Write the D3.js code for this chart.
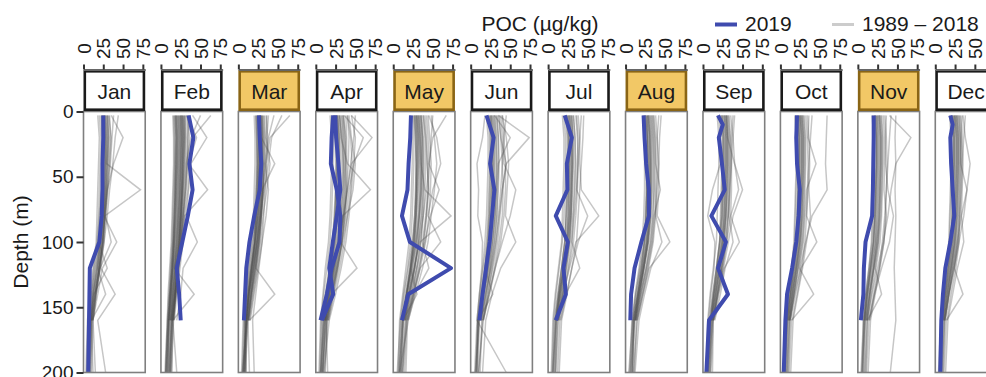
<!DOCTYPE html>
<html>
<head>
<meta charset="utf-8">
<script src="https://cdn.jsdelivr.net/npm/d3@7"></script>
<style>
  body { margin: 0; background: #fff; }
  svg { font-family: "Liberation Sans", Arial, sans-serif; }
</style>
</head>
<body>
<div id="chart"></div>
<script>
// months and the ones with a highlighted strip
const months = ["Jan", "Feb", "Mar", "Apr", "May", "Jun", "Jul", "Aug", "Sep", "Oct", "Nov", "Dec"];
const highlighted = ["Mar", "May", "Aug", "Nov"];
const pocTicks = [0, 25, 50, 75];
const depthTicks = [0, 50, 100, 150, 200];

// sampling depths (m)
const depthsHist = [3, 20, 40, 60, 80, 100, 120, 140, 160, 200];
const depths2019 = [3, 10, 20, 40, 60, 80, 100, 120, 140, 160, 200];

// 2019 profiles, POC (ug/kg) at depths2019, null = not sampled
const profiles2019 = [
  { month: "Jan", poc: [25, null, 25, 24, 24, 23, 20, 8, 7.5, 7, 6] },
  { month: "Feb", poc: [35, null, 41, 36, 40, 34, 27, 20, 23, 25, null] },
  { month: "Mar", poc: [26, null, 27, 29, 27, 20, 14, 10, 8.5, 7, null] },
  { month: "Apr", poc: [22, null, 20, 19, 26.5, 31, 30, 20, 14, 6, null] },
  { month: "Apr", poc: [24.5, null, 25.7, 28.6, 31, 26.5, 21.5, 17, 22, 7.6, null] },
  { month: "May", poc: [22.4, null, 21.5, 19.4, 18, 11, 21, 73, 19, 11, null] },
  { month: "Jun", poc: [20, null, 29, 24.5, 30, 27, 24, 19.5, 15, 11, null] },
  { month: "Jul", poc: [21, null, 30, 23.7, 24.4, 9.7, 25, 19.4, 22.4, 9.7, null] },
  { month: "Aug", poc: [22.8, null, 24, 26, 29.5, 29.5, 20, 11.4, 7, 6, null] },
  { month: "Sep", poc: [19, 25, 20, 24, 27.5, 10.6, 29, 19, 31.6, 7.6, 4.3] },
  { month: "Oct", poc: [21, null, 20, 21, 24.5, 23, 20, 14.8, 8.4, 6.3, 4.2] },
  { month: "Nov", poc: [20, null, 20, 19.5, 19, 18, 9.7, 7.6, 7, 3.8, null] },
  { month: "Dec", poc: [19, 22, 19, 20, 22, 24, 19, 12.7, 9.7, 7.6, 6.3] }
];

// 1989-2018 profiles per month, POC at depthsHist (shorter rows stop at 160 m)
const histJan = [
  [25,27,26,24,22,20,15,10,8,6], [30,32,30,28,25,22,18,12,9], [22,24,23,22,20,18,14,10,7,5],
  [35,50,38,30,27,24,20,14,10], [28,30,29,72,27,25,20,15,11,9], [38,36,34,31,28,26,22,40,18,28],
  [20,22,21,20,19,17,13,9,6,4], [32,35,33,30,26,42,24,18,12], [26,28,27,26,24,21,17,12,9,7],
  [44,40,37,33,30,26,20,15,10,8], [24,25,24,23,21,19,30,13,9], [30,31,30,29,27,24,19,14,10,12],
  [18,20,19,18,17,16,12,8,5,3], [27,29,28,27,25,22,18,28,10], [33,34,32,30,28,35,21,16,12,15],
  [26,27,27,26,25,23,19,13,10,8], [29,30,29,28,26,24,20,15,11], [23,24,24,23,22,20,16,11,8,6],
  [27,28,28,27,26,24,21,16,12,10], [31,32,31,29,27,25,21,16,12], [24,26,25,24,23,21,17,12,9,7]
];
const histFeb = [
  [20,21,20,19,18,16,14,11,9,6], [25,26,25,24,22,20,17,14,12], [30,30,29,28,26,24,20,17,14,10],
  [15,16,16,15,14,13,11,9,8,5], [35,34,33,31,28,26,22,18,15], [18,19,18,18,17,15,13,11,9,7],
  [28,29,28,27,25,23,19,16,13,11], [63,40,36,34,30,27,22,19,16], [22,23,22,21,20,18,15,13,10,8],
  [32,45,35,59,30,28,24,20,17], [26,27,26,25,24,22,19,16,14,12], [40,58,38,35,32,46,28,25,20],
  [17,18,18,17,16,15,13,11,9,6], [24,25,24,23,22,20,17,42,15,20], [29,30,29,27,25,23,20,17,13],
  [21,22,21,20,19,17,15,12,10,9], [34,36,34,32,29,26,23,19,15,14], [19,20,19,18,17,16,14,12,10],
  [27,28,27,26,25,23,21,18,16,13], [50,38,32,30,28,25,21,18,14],
  [23,24,23,22,21,19,16,13,11,9], [27,28,27,26,24,22,18,15,12], [20,21,21,20,19,17,15,12,10,7],
  [31,32,31,29,27,25,21,18,15,12], [25,26,25,24,23,21,18,15,13], [22,23,23,22,21,19,17,14,12,10],
  [28,29,28,27,26,24,21,18,15], [18,19,19,18,17,16,14,12,10,8],
  [16,17,17,16,15,14,12,10,8,6], [33,34,33,31,28,25,22,19,16], [24,25,25,24,23,21,18,15,13,11],
  [19,20,20,19,18,17,15,13,11], [26,27,27,26,25,23,20,17,14,12], [30,31,30,28,26,24,21,18,15]
];
const histMar = [
  [25,26,26,25,22,18,14,10,8,6], [30,31,30,28,25,21,16,12,9], [22,23,23,22,20,17,13,10,7,5],
  [65,40,35,32,28,24,19,14,10], [28,29,46,30,27,23,18,13,10,8], [33,34,33,31,29,26,22,46,14],
  [20,21,21,20,19,16,12,9,6,4], [35,37,36,34,32,30,26,22,18,20], [26,27,27,26,24,21,17,13,10,7],
  [45,38,34,31,28,25,21,16,12], [24,25,25,24,22,19,15,11,8,10], [29,30,30,29,27,24,20,16,12,14],
  [38,36,34,38,35,30,25,20,15], [27,28,28,27,25,23,19,14,11,5], [55,42,38,33,29,26,22,17,13],
  [26,27,27,26,24,21,17,13,10,8], [30,31,31,30,28,25,21,16,12], [23,24,24,23,22,20,16,12,9,7],
  [28,29,29,28,26,23,19,15,11,9], [32,33,32,31,29,27,23,18,13], [25,26,26,25,23,21,17,13,10,6],
  [27,28,28,27,25,22,18,14,11,8], [31,32,32,31,29,26,22,17,13], [24,25,25,24,23,21,17,13,10,7],
  [29,30,30,29,27,24,20,16,12,9], [36,35,40,36,31,28,24,19,14], [22,23,24,23,22,20,16,12,9,6]
];
const histApr = [
  [25,27,27,26,24,21,17,12,8,6], [35,38,37,35,32,28,22,16,11], [20,22,22,21,20,18,14,10,7,5],
  [45,71,45,40,35,30,24,18,12], [30,32,40,69,34,29,23,17,12,9], [40,42,41,39,35,31,52,20,14],
  [18,20,20,19,18,16,12,9,6,4], [38,39,39,39,37,33,27,20,14,12], [28,30,30,29,27,24,19,14,10],
  [50,48,44,40,36,32,26,19,13,8], [24,26,26,25,23,21,17,13,9], [33,35,35,34,32,29,24,18,13,15],
  [42,45,50,47,40,34,28,22,16], [27,29,29,28,26,23,19,15,11,7], [36,60,48,42,38,33,27,21,15],
  [28,30,30,29,27,25,20,15,11,8], [32,34,34,33,31,28,23,17,12], [25,27,27,26,25,22,18,13,9,7],
  [30,32,32,31,30,27,22,16,12,9], [35,37,38,37,34,30,25,19,13], [27,28,28,28,26,24,20,15,10,6],
  [40,44,46,44,40,36,30,23,16], [45,50,48,45,42,38,32,25,17,10], [30,33,35,36,34,31,26,20,14,9],
  [26,28,29,29,28,26,22,17,12], [34,36,37,38,36,33,28,21,15,11], [22,24,25,25,24,22,18,14,10,6]
];
const histMay = [
  [28,30,30,29,27,24,19,14,10,7], [35,37,37,36,33,29,23,17,12], [22,24,24,23,22,20,16,12,8,6],
  [67,50,45,42,38,33,27,20,14], [32,34,35,40,73,34,26,19,13,10], [40,42,43,45,42,38,30,24,16],
  [25,26,26,25,24,22,18,13,9,5], [45,55,60,50,44,60,34,26,18,16], [30,32,32,31,29,27,22,17,12],
  [38,40,41,40,38,35,29,22,15,12], [27,28,29,28,27,25,21,16,11], [50,48,46,44,41,37,45,27,19,8],
  [33,35,36,36,35,32,27,21,15], [42,44,45,58,47,40,32,25,17,14], [29,31,31,30,29,26,22,30,12],
  [30,32,33,32,31,28,23,17,12,9], [34,36,36,35,33,30,25,19,13], [27,29,29,29,28,25,21,16,11,7],
  [32,34,35,34,32,29,24,18,13,10], [36,38,39,38,36,32,27,20,14], [29,30,31,30,29,27,22,17,12,8],
  [44,46,48,47,45,41,34,26,18], [38,41,43,44,42,39,33,25,17,12], [48,52,55,52,48,44,37,28,19],
  [26,28,29,29,28,26,22,17,12,8], [35,37,38,38,37,35,30,23,16,11], [31,33,34,34,33,31,27,21,15]
];
const histJun = [
  [25,27,27,26,24,22,18,13,9,6], [30,32,33,32,30,27,22,16,11], [20,22,22,21,20,18,15,11,8,5],
  [35,74,45,40,36,32,26,19,13], [18,15,8,10,9,15,14,11,8,45], [38,40,42,57,50,40,31,23,16],
  [22,24,24,23,22,20,16,12,9,7], [40,45,48,46,44,57,38,27,19,15], [28,30,30,29,28,25,21,16,11],
  [33,35,36,35,33,30,25,20,14,12], [26,28,28,27,26,24,20,15,10], [45,42,40,38,35,32,27,22,16,10],
  [30,50,35,33,31,28,24,18,13], [24,25,25,24,23,21,18,28,9,8], [36,38,45,40,37,34,28,21,15],
  [27,29,29,28,27,24,20,15,10,8], [31,33,33,32,31,28,23,17,12], [24,26,26,25,24,22,18,14,10,7],
  [29,31,31,30,29,26,22,16,11,9], [33,35,35,34,33,30,25,19,13], [26,27,28,27,26,24,20,15,11,6],
  [40,42,44,44,42,38,31,24,16], [35,38,40,41,40,36,30,23,15,10]
];
const histJul = [
  [24,26,26,25,23,21,17,12,8,6], [30,32,32,31,29,26,21,16,11], [20,22,22,21,20,18,14,10,7,5],
  [38,40,40,42,64,35,27,19,13], [27,29,29,28,27,24,20,15,10,8], [35,37,38,37,35,32,26,20,14],
  [18,20,20,19,18,17,13,9,6,4], [42,40,38,36,33,30,40,22,15,12], [28,30,30,29,27,25,20,15,11],
  [32,34,35,34,32,30,25,19,13,10], [25,27,27,26,25,23,19,14,10], [45,44,42,40,38,36,30,23,16],
  [30,31,31,30,29,27,23,18,12,9], [22,24,24,23,22,21,17,13,9], [36,38,37,36,50,38,30,24,17,14],
  [26,28,28,27,26,24,19,14,10,7], [29,31,31,30,29,27,22,17,12], [23,25,25,24,23,21,17,13,9,6],
  [27,29,30,29,28,25,21,16,11,9], [32,34,34,33,31,28,23,18,13], [25,26,27,26,25,23,19,14,10,6]
];
const histAug = [
  [26,28,28,27,26,24,19,13,9,6], [32,34,34,34,32,29,23,17,12], [22,24,24,24,23,21,17,12,8,5],
  [38,40,42,42,40,56,30,22,15], [28,30,31,31,30,27,22,16,11,8], [35,37,38,38,37,34,28,21,14],
  [24,25,26,26,25,23,18,13,9,4], [42,40,40,39,38,46,32,24,17,12], [30,32,32,32,31,28,23,17,12],
  [27,28,29,29,28,26,21,15,10,9], [33,35,36,36,35,32,26,19,13], [45,43,42,40,38,35,29,22,15,10],
  [29,31,31,31,30,28,23,18,13], [36,38,38,44,36,33,27,20,14,11], [25,27,27,27,26,24,20,15,10],
  [28,30,30,30,29,27,22,16,11,8], [31,33,33,33,32,29,24,18,12], [25,27,27,27,26,24,20,15,10,7],
  [29,31,32,32,31,28,23,17,12,9], [34,36,36,36,34,31,26,19,13], [27,28,29,29,28,26,21,16,11,6]
];
const histSep = [
  [24,26,26,25,24,21,17,12,8,6], [30,32,32,31,29,26,21,16,11], [20,22,22,12,6,15,14,10,7,5],
  [35,38,40,50,38,32,26,19,13], [27,29,29,28,27,24,20,15,10,8], [33,35,36,36,35,46,27,20,14],
  [18,20,20,19,18,17,13,9,6,4], [40,38,36,34,32,30,25,19,13,12], [28,30,30,29,28,25,21,16,11],
  [32,34,34,33,32,29,24,18,13,10], [25,27,27,26,25,23,19,14,10], [38,36,35,34,33,38,28,22,15],
  [30,31,31,30,29,27,23,30,12,9], [22,24,24,23,22,21,17,13,9], [29,31,40,45,35,30,24,18,12,7],
  [26,28,28,27,26,24,19,14,10,7], [29,31,31,30,29,26,22,17,12], [23,25,25,24,23,21,17,13,9,6],
  [27,29,29,28,27,25,21,16,11,9], [31,33,33,32,31,28,23,18,13], [24,26,26,25,24,22,18,14,10,6]
];
const histOct = [
  [22,24,24,23,22,20,16,11,8,6], [28,30,30,29,28,25,20,15,10], [18,20,20,19,18,17,14,10,7,5],
  [59,58,57,59,40,32,25,18,12], [25,27,27,26,25,23,19,14,10,8], [32,34,35,34,33,46,26,19,13],
  [20,21,21,20,19,18,14,10,7,4], [36,35,45,33,31,29,24,42,14,11], [26,28,28,27,26,24,20,15,11],
  [30,32,32,31,30,28,23,17,12,10], [24,25,25,24,23,22,18,13,9], [40,38,36,35,33,31,27,21,15],
  [27,29,29,28,27,26,22,17,12,9], [21,23,23,22,21,20,16,12,8], [34,36,37,36,38,33,28,22,16,13],
  [24,26,26,25,24,22,18,13,9,7], [27,29,29,28,27,25,21,16,11], [22,23,23,22,21,20,16,12,8,6],
  [25,27,27,26,25,24,20,15,11,8], [29,31,31,30,29,27,22,17,12], [23,24,24,23,22,21,17,13,9,5]
];
const histNov = [
  [22,24,24,23,22,20,16,11,8,6], [28,30,30,29,28,25,20,15,10], [18,20,20,19,18,17,14,10,7,5],
  [40,67,48,42,38,32,25,18,12], [48,47,48,47,48,47,46,47,48,41], [32,34,35,38,45,40,30,21,14],
  [20,21,21,20,19,18,14,10,7,4], [36,35,34,33,36,33,27,20,14,11], [26,28,28,27,26,24,20,15,11],
  [30,32,32,31,30,28,23,17,12,10], [24,25,25,24,23,22,18,13,9], [42,40,38,36,34,31,27,21,15],
  [27,29,29,28,27,26,22,30,12,9], [21,23,23,22,21,20,16,12,8], [34,36,37,36,35,33,28,22,16,13],
  [24,26,26,25,24,22,17,12,9,7], [27,29,29,28,27,24,20,15,11], [22,23,23,22,21,19,15,11,8,6],
  [25,27,27,26,25,23,19,14,10,8], [29,31,31,30,29,26,21,16,12], [23,24,24,23,22,20,16,12,9,5]
];
const histDec = [
  [22,24,24,23,22,20,16,11,8,6], [28,30,30,29,28,25,20,15,10], [18,20,20,19,18,17,14,10,7,5],
  [35,38,44,40,36,30,24,17,12], [25,27,27,26,25,23,19,14,10,8], [30,32,33,32,31,29,24,18,13],
  [20,21,21,20,19,18,14,10,7,4], [34,33,32,31,30,28,24,35,14,11], [26,28,28,27,26,24,20,15,11],
  [31,32,32,40,33,28,23,17,12,10], [24,25,25,24,23,22,18,13,9], [38,36,34,33,31,30,26,20,15],
  [27,29,29,28,27,26,22,17,12,9], [21,23,23,22,21,20,16,12,8], [32,34,35,34,33,36,28,22,16,13],
  [24,26,26,25,24,22,18,13,9,7], [27,29,29,28,27,25,21,16,11], [22,23,23,22,21,20,16,12,8,6],
  [25,27,27,26,25,24,20,15,11,8], [29,31,31,30,29,27,22,17,12], [23,24,24,23,22,21,17,13,9,5]
];
const histByMonth = [histJan, histFeb, histMar, histApr, histMay, histJun,
                     histJul, histAug, histSep, histOct, histNov, histDec];

const width = 986, height = 377;

const svg = d3.select("#chart")
  .append("svg")
  .attr("width", width)
  .attr("height", height);

// panel positions
const panel = d3.scaleBand()
  .domain(months)
  .range([83.5, 997])
  .paddingInner(0.203)
  .paddingOuter(0);
const pw = panel.bandwidth();

const x = d3.scaleLinear().domain([0, 78]).range([0, pw]);
const y = d3.scaleLinear().domain([0, 200]).range([111.5, 372.5]);

const line = d3.line()
  .x(d => x(d[1]))
  .y(d => y(d[0]));

months.forEach(function(m, i) {
  const g = svg.append("g")
    .attr("transform", `translate(${panel(m)}, 0)`);

  g.append("clipPath")
    .attr("id", "clip" + i)
    .append("rect")
    .attr("x", 0).attr("y", y(0))
    .attr("width", pw).attr("height", y(200) - y(0));

  const body = g.append("g").attr("clip-path", `url(#clip${i})`);

  // historic profiles
  body.selectAll(".hist")
    .data(histByMonth[i])
    .join("path")
    .attr("class", "hist")
    .attr("fill", "none")
    .attr("stroke", "#4d4d4d")
    .attr("stroke-opacity", 0.32)
    .attr("stroke-width", 1.5)
    .attr("d", p => line(p.map((v, k) => [depthsHist[k], v])));

  // 2019 profiles
  body.selectAll(".y2019")
    .data(profiles2019.filter(p => p.month === m))
    .join("path")
    .attr("class", "y2019")
    .attr("fill", "none")
    .attr("stroke", "#3f4bae")
    .attr("stroke-width", 4)
    .attr("stroke-linejoin", "round")
    .attr("d", p => line(p.poc.map((v, k) => [depths2019[k], v]).filter(d => d[1] != null)));

  // panel border
  g.append("rect")
    .attr("x", 0).attr("y", y(0))
    .attr("width", pw).attr("height", y(200) - y(0))
    .attr("fill", "none")
    .attr("stroke", "#7f7f7f")
    .attr("stroke-width", 1.6);

  // strip
  const hl = highlighted.includes(m);
  g.append("rect")
    .attr("x", 1.3).attr("y", 71.3)
    .attr("width", pw - 2.6).attr("height", 38.4)
    .attr("fill", hl ? "#f2c866" : "#fff")
    .attr("stroke", hl ? "#8a6515" : "#1a1a1a")
    .attr("stroke-width", 2.6);
  g.append("text")
    .attr("x", pw / 2).attr("y", 98.5)
    .attr("text-anchor", "middle")
    .attr("font-size", "21px")
    .attr("fill", "#1a1a1a")
    .text(m);

  // top axis
  const ax = g.append("g")
    .attr("transform", "translate(0, 69.5)")
    .call(d3.axisTop(x).tickValues(pocTicks).tickSize(5).tickSizeOuter(0));
  ax.select(".domain").attr("stroke", "#666").attr("stroke-width", 2);
  ax.selectAll(".tick line").attr("stroke", "#333").attr("stroke-width", 2);
  ax.selectAll(".tick text")
    .attr("x", 0).attr("y", 0).attr("dy", "0.35em")
    .attr("transform", "translate(0, -21) rotate(-90)")
    .attr("text-anchor", "middle")
    .attr("font-size", "19px")
    .attr("fill", "#1a1a1a");
});

// depth axis
const ay = svg.append("g")
  .attr("transform", `translate(${panel("Jan")}, 0)`)
  .call(d3.axisLeft(y).tickValues(depthTicks).tickSize(7).tickPadding(3).tickSizeOuter(0));
ay.select(".domain").remove();
ay.selectAll(".tick line").attr("stroke", "#333").attr("stroke-width", 2);
ay.selectAll(".tick text").attr("font-size", "19px").attr("fill", "#1a1a1a");

svg.append("text")
  .attr("transform", `translate(28, ${(y(0) + y(200)) / 2}) rotate(-90)`)
  .attr("text-anchor", "middle")
  .attr("font-size", "21px")
  .attr("fill", "#1a1a1a")
  .text("Depth (m)");

svg.append("text")
  .attr("x", 540).attr("y", 31)
  .attr("text-anchor", "middle")
  .attr("font-size", "21px")
  .attr("fill", "#1a1a1a")
  .text("POC (µg/kg)");

// legend
svg.append("line")
  .attr("x1", 715).attr("x2", 737).attr("y1", 24.5).attr("y2", 24.5)
  .attr("stroke", "#3f4bae").attr("stroke-width", 4);
svg.append("text")
  .attr("x", 745).attr("y", 31)
  .attr("font-size", "21px").attr("fill", "#1a1a1a")
  .text("2019");
svg.append("line")
  .attr("x1", 832).attr("x2", 854).attr("y1", 24.5).attr("y2", 24.5)
  .attr("stroke", "#cccccc").attr("stroke-width", 3);
svg.append("text")
  .attr("x", 862).attr("y", 31)
  .attr("font-size", "21px").attr("fill", "#1a1a1a")
  .text("1989 – 2018");
</script>
</body>
</html>
